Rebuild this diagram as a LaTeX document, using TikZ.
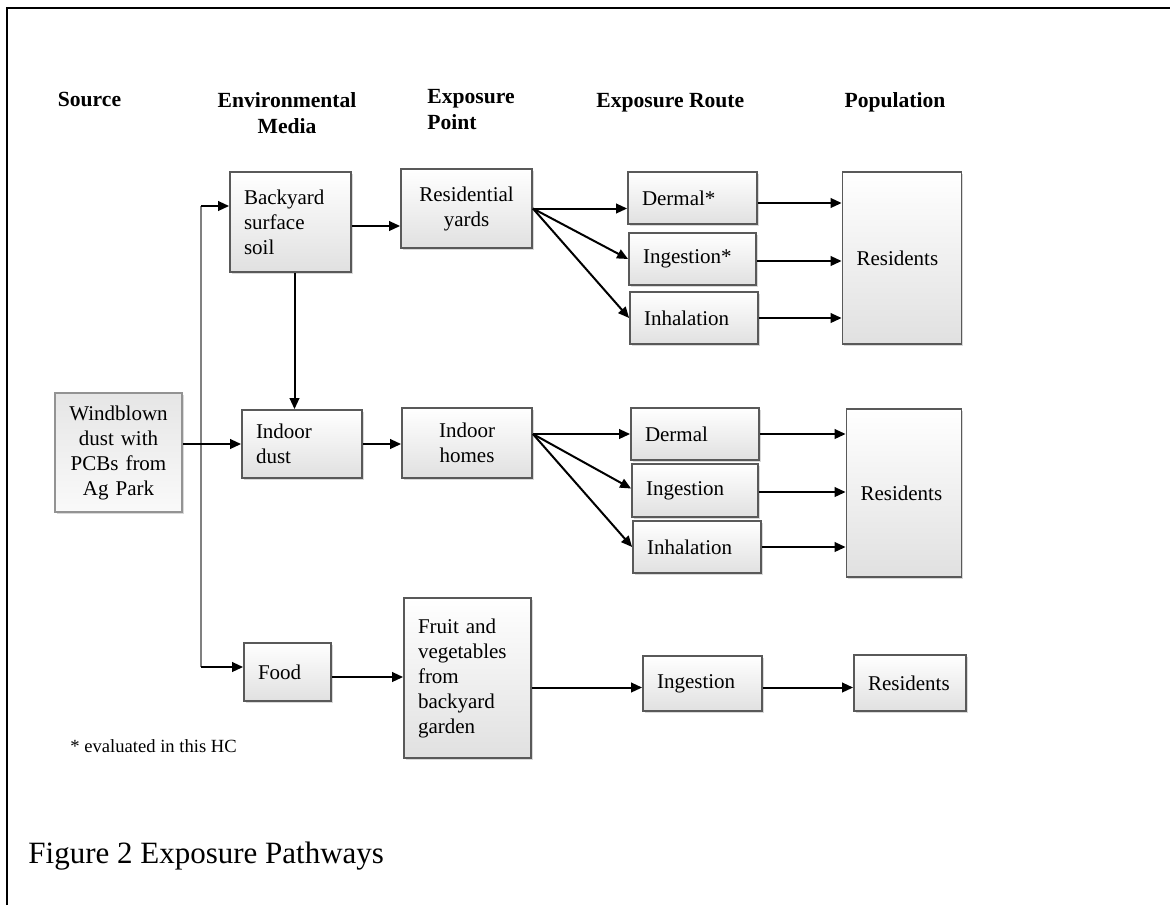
\documentclass[tikz,border=0pt]{standalone}
\usepackage{fontspec}
\setmainfont{Liberation Serif}
\usetikzlibrary{arrows.meta, shadows, calc}

\newcommand{\boxfont}{\fontsize{10.5}{12.5}\selectfont}
\newcommand{\headfont}{\fontsize{10.8}{13}\selectfont\bfseries}
\newcommand{\notefont}{\fontsize{9.3}{11}\selectfont}
\newcommand{\captionfont}{\fontsize{15.5}{18}\selectfont}

\tikzset{
  box/.style={draw=gray!70!black, line width=0.9pt, top color=white, bottom color=gray!24,
    drop shadow={shadow xshift=0.8pt, shadow yshift=-0.8pt, opacity=0.3},
    inner xsep=7pt, inner ysep=0pt, align=left, font=\boxfont},
  srcbox/.style={box, draw=gray!85, top color=gray!20, bottom color=gray!4, drop shadow={opacity=0}, align=center, inner xsep=5pt},
  head/.style={font=\headfont, inner sep=0pt},
  arr/.style={-{Triangle[length=5.5pt,width=4.8pt]}, line width=1pt},
  bus/.style={draw=gray, line width=0.6pt}
}

\begin{document}
\begin{tikzpicture}[x=0.5pt, y=-0.5pt]
        \useasboundingbox (0,0) rectangle (1170,905);

        \coordinate (FB) at (7,905);
        \coordinate (FC) at (7,8);
        \coordinate (FR) at (1170,8);
        \draw[line width=1.25pt] (FB) -- (FC) -- (FR);

        \node[head, anchor=base] (hsrc) at (89.5,106) {Source};
        \node[head, anchor=north, align=center] (hmed) at (287,92) {Environmental\\Media};
        \node[head, anchor=north west, align=left] (hpt) at (427,89) {Exposure\\Point};
        \node[head, anchor=base west] (hrte) at (596,107) {Exposure Route};
        \node[head, anchor=base] (hpop) at (895,107) {Population};

        \node[srcbox, text width=53.5pt, minimum height=59.5pt] (src) at (118.5,452.5) {Windblown\\dust with\\PCBs from\\Ag Park};

        \node[box, text width=46.5pt, minimum height=50pt] (soil) at (290.5,222) {Backyard\\surface\\soil};
        \node[box, text width=46pt, minimum height=34pt] (dust) at (302,444) {Indoor\\dust};
        \node[box, text width=29.5pt, minimum height=29pt] (food) at (287.5,672) {Food};

        \node[box, align=center, text width=51.5pt, minimum height=39.5pt] (yards) at (466.5,208.5) {Residential\\yards};
        \node[box, align=center, text width=51pt, minimum height=35pt] (homes) at (467,443) {Indoor\\homes};
        \node[box, text width=49.5pt, minimum height=80pt] (garden) at (467.5,678) {Fruit and\\vegetables\\from\\backyard\\garden};

        \node[box, text width=50.5pt, minimum height=26pt] (dermA) at (692.5,198) {Dermal*};
        \node[box, text width=49.5pt, minimum height=26pt] (ingA) at (692.5,259) {Ingestion*};
        \node[box, text width=50pt, minimum height=26pt] (inhA) at (694,318) {Inhalation};
        \node[box, text width=50pt, minimum height=26pt] (dermB) at (695,434) {Dermal};
        \node[box, text width=49pt, minimum height=26.5pt] (ingB) at (695,490.5) {Ingestion};
        \node[box, text width=50pt, minimum height=26pt] (inhB) at (697,547) {Inhalation};
        \node[box, text width=45.5pt, minimum height=27.5pt] (ingC) at (702.5,683.5) {Ingestion};

        \node[box, text width=45.5pt, minimum height=86pt] (resA) at (902,258) {Residents};
        \node[box, text width=43.5pt, minimum height=84pt] (resB) at (904,493) {Residents};
        \node[box, text width=42pt, minimum height=28pt] (resC) at (910,683) {Residents};

        \coordinate (busT) at (201,206);
        \coordinate (busB) at (201,667);
        \draw[bus] (busT) -- (busB);
        \draw[arr] (busT) -- (busT -| soil.west);
        \draw[arr] (busB) -- (busB -| food.west);
        \draw[arr] (src.east |- dust.west) -- (dust.west);

        \draw[arr] ([yshift=-2pt]soil.east) -- ([yshift=-2pt]soil.east -| yards.west);
        \draw[arr] ([xshift=2pt]soil.south) -- ([xshift=2pt]soil.south |- dust.north);
        \draw[arr] (dust.east) -- (dust.east -| homes.west);
        \draw[arr] ([yshift=-2.5pt]food.east) -- ([yshift=-2.5pt]food.east -| garden.west);

        \coordinate (fanA) at (yards.east);
        \draw[arr] (fanA) -- (fanA -| dermA.west);
        \draw[arr] (fanA) -- (ingA.west);
        \draw[arr] (fanA) -- (inhA.west);
        \coordinate (fanB) at ([yshift=4.5pt]homes.east);
        \draw[arr] (fanB) -- (fanB -| dermB.west);
        \draw[arr] (fanB) -- ([yshift=1pt]ingB.west);
        \draw[arr] (fanB) -- (inhB.west);
        \draw[arr] ([yshift=-2pt]ingC.west -| garden.east) -- ([yshift=-2pt]ingC.west);

        \draw[arr] ([yshift=-2.5pt]dermA.east) -- ([yshift=-2.5pt]dermA.east -| resA.west);
        \draw[arr] ([yshift=-1pt]ingA.east) -- ([yshift=-1pt]ingA.east -| resA.west);
        \draw[arr] (inhA.east) -- (inhA.east -| resA.west);
        \draw[arr] (dermB.east) -- (dermB.east -| resB.west);
        \draw[arr] ([yshift=-0.75pt]ingB.east) -- ([yshift=-0.75pt]ingB.east -| resB.west);
        \draw[arr] (inhB.east) -- (inhB.east -| resB.west);
        \draw[arr] ([yshift=-2pt]ingC.east) -- ([yshift=-2pt]ingC.east -| resC.west);

        \node[anchor=base west, font=\notefont, inner sep=0pt] (note) at (70,752) {* evaluated in this HC};
        \node[anchor=base west, font=\captionfont, inner sep=0pt] (cap) at (28,863) {Figure 2 Exposure Pathways};
    \end{tikzpicture}
\end{document}
